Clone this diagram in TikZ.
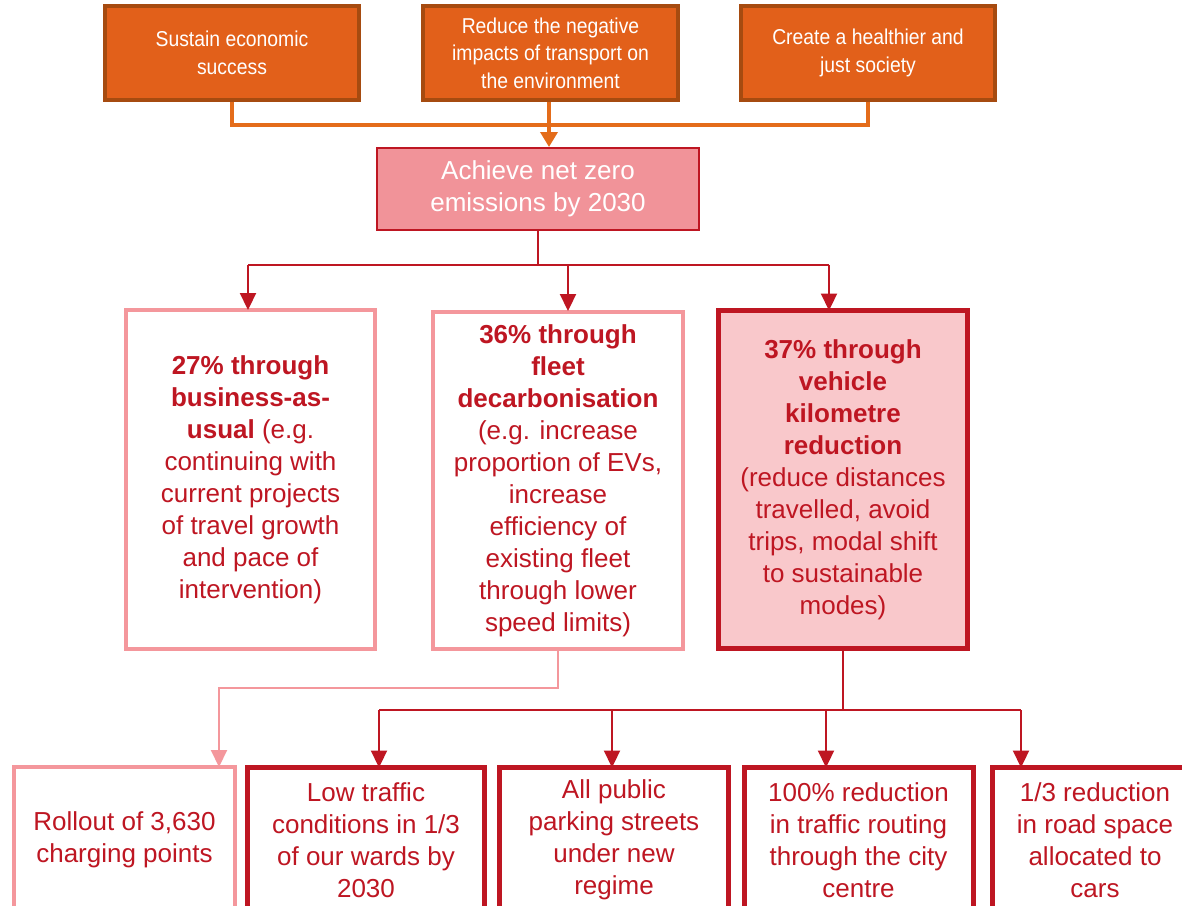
\documentclass[tikz,border=0pt]{standalone}
\usepackage{fontspec}
\setmainfont{Liberation Sans}
\newfontfamily\narrowfont[FakeStretch=0.9]{Liberation Sans}
\usetikzlibrary{arrows.meta}
\definecolor{orfill}{HTML}{E2601A}
\definecolor{ordraw}{HTML}{A64B10}
\definecolor{orline}{HTML}{E46C1A}
\definecolor{nzfill}{HTML}{F19399}
\definecolor{dred}{HTML}{BE1622}
\definecolor{pinkdraw}{HTML}{F4979C}
\definecolor{lpink}{HTML}{F9C8CB}
\tikzset{
  topbox/.style={draw=ordraw, fill=orfill, line width=4pt, inner sep=0pt,
    text=white, align=center, font=\narrowfont\fontsize{21.5}{27.5}\selectfont},
  nzbox/.style={draw=dred, fill=nzfill, line width=2pt, inner sep=0pt,
    text=white, align=center, font=\fontsize{26}{32}\selectfont},
  pinkbox/.style={draw=pinkdraw, fill=white, line width=4pt, inner sep=0pt,
    text=dred, align=center, font=\fontsize{26}{32}\selectfont},
  redbox/.style={draw=dred, fill=white, line width=5pt, inner sep=0pt,
    text=dred, align=center, font=\fontsize{26}{32}\selectfont},
  oline/.style={draw=orline, line width=3.5pt},
  oarrow/.style={oline, -{Triangle[width=17pt,length=15pt]}},
  rline/.style={draw=dred, line width=2.2pt},
  rarrow/.style={rline, -{Triangle[width=16pt,length=17pt]}},
  parrow/.style={draw=pinkdraw, line width=2pt, -{Triangle[width=16pt,length=17pt]}},
}
\begin{document}
\begin{tikzpicture}[x=1pt,y=-1pt]
\useasboundingbox (0,0) rectangle (1182,905);
\clip (0,0) rectangle (1182,905);
\fill[white] (0,0) rectangle (1182,905);

% top boxes
\node[topbox, minimum width=254pt, minimum height=94pt] (t1) at (232,53)
  {Sustain economic\\success};
\node[topbox, minimum width=255pt, minimum height=94pt] (t2) at (550.5,53)
  {Reduce the negative\\impacts of transport on\\the environment};
\node[topbox, minimum width=254pt, minimum height=94pt] (t3) at (868,53)
  {Create a healthier and\\just society};

% net zero box
\node[nzbox, minimum width=322pt, minimum height=82pt] (nz) at (538,189)
  {Achieve net zero\\emissions by 2030};

% middle boxes
\node[pinkbox, minimum width=249pt, minimum height=339pt] (mA) at (250.5,479.5)
  {\textbf{27\% through}\\\textbf{business-as-}\\\textbf{usual} (e.g.\\continuing with\\current projects\\of travel growth\\and pace of\\intervention)};
\node[pinkbox, minimum width=250pt, minimum height=337pt] (mB) at (558,480.5)
  {\textbf{36\% through}\\\textbf{fleet}\\\textbf{decarbonisation}\\(e.g. increase\\proportion of EVs,\\increase\\efficiency of\\existing fleet\\through lower\\speed limits)};
\node[redbox, fill=lpink, minimum width=249pt, minimum height=338pt] (mC) at (843,479.5)
  {\textbf{37\% through}\\\textbf{vehicle}\\\textbf{kilometre}\\\textbf{reduction}\\(reduce distances\\travelled, avoid\\trips, modal shift\\to sustainable\\modes)};

% bottom boxes
\node[pinkbox, minimum width=221pt, minimum height=146pt] (b1) at (124.5,840)
  {Rollout of 3,630\\charging points};
\node[redbox, minimum width=237pt, minimum height=145pt] (b2) at (366,840)
  {Low traffic\\conditions in 1/3\\of our wards by\\2030};
\node[redbox, minimum width=229pt, minimum height=145pt] (b3) at (614,840)
  {All public\\parking streets\\under new\\regime};
\node[redbox, minimum width=229pt, minimum height=145pt] (b4) at (858.5,840)
  {100\% reduction\\in traffic routing\\through the city\\centre};
\node[redbox, minimum width=205pt, minimum height=145pt] (b5) at (1095,840)
  {1/3 reduction\\in road space\\allocated to\\cars};

% orange connectors
\coordinate (oj) at (549,125);
\draw[oline] (t1.south) |- (oj) -| (t3.south);
\draw[oarrow] (t2.south -| oj) -- (nz.north -| oj);

% net zero to middle
\coordinate (rj) at (538,265);
\coordinate (ra) at (248,265);
\coordinate (rb) at (568,265);
\coordinate (rc) at (829,265);
\draw[rline] (nz.south) -- (rj);
\draw[rline] (ra) -- (rc);
\draw[rarrow] (ra) -- ([yshift=-2pt]ra |- mA.north);
\draw[rarrow] (rb) -- ([yshift=-1pt]rb |- mB.north);
\draw[rarrow] (rc) -- ([yshift=-2.5pt]rc |- mC.north);

% fleet to charging points
\coordinate (pj) at (219,688);
\draw[parrow] (mB.south) |- (pj) -- ([yshift=-2pt]pj |- b1.north);

% vehicle km reduction to bottom
\coordinate (cj) at (843,710);
\coordinate (c2) at (379,710);
\coordinate (c3) at (612,710);
\coordinate (c4) at (826,710);
\coordinate (c5) at (1021,710);
\draw[rline] (mC.south) -- (cj);
\draw[rline] (c2) -- (c5);
\draw[rarrow] (c2) -- ([yshift=-2.5pt]c2 |- b2.north);
\draw[rarrow] (c3) -- ([yshift=-2.5pt]c3 |- b3.north);
\draw[rarrow] (c4) -- ([yshift=-2.5pt]c4 |- b4.north);
\draw[rarrow] (c5) -- ([yshift=-2.5pt]c5 |- b5.north);
\end{tikzpicture}
\end{document}
